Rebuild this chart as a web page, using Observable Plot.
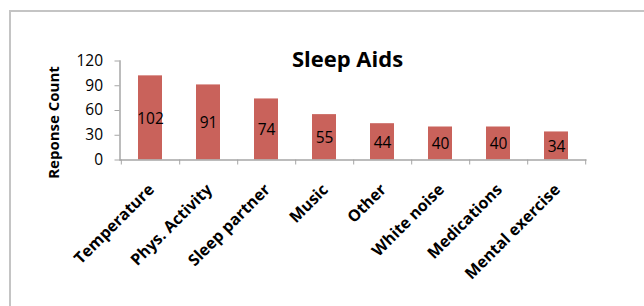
<!DOCTYPE html>
<html><head><meta charset="utf-8">
<script src="https://cdn.jsdelivr.net/npm/d3@7"></script>
<script src="https://cdn.jsdelivr.net/npm/@observablehq/plot@0.6"></script>
<style>
body{margin:0;background:#fff;overflow:hidden;width:644px;height:306px;position:relative;font-family:"Open Sans",sans-serif;}
#border{position:absolute;left:9px;top:10px;width:700px;height:400px;border:2px solid #c4c4c4;box-sizing:border-box}
#chart{position:absolute;left:0;top:0}
</style></head><body><div id="border"></div><div id="chart"></div>
<script>
const categories = ["Temperature","Phys. Activity","Sleep partner","Music","Other","White noise","Medications","Mental exercise"];
const counts = [102,91,74,55,44,40,40,34];
const yTicks = [0,30,60,90,120];
const title = "Sleep Aids";
const yLabel = "Reponse Count";

const data = categories.map((c,i)=>({category:c,count:counts[i]}));
const W=644,H=306, mL=119.5, mR=57.5, mT=60.5, mB=146.5;
const step=(W-mL-mR)/categories.length;
const axisColor="#a6a6a6";
const font="'Open Sans', sans-serif";

const plot = Plot.plot({
  width:W,height:H,marginLeft:mL,marginRight:mR,marginTop:mT,marginBottom:mB,
  style:{fontFamily:font,fontSize:"15px",background:"transparent",color:"#000",overflow:"visible"},
  x:{domain:categories,paddingInner:0.594,paddingOuter:0.297,axis:null},
  y:{domain:[0,120],axis:null},
  marks:[
    Plot.barY(data,{x:"category",y:"count",fill:"#c9625b"}),
    Plot.text(data,{x:"category",y:d=>d.count/2,text:d=>String(d.count),fontSize:15.5,fill:"#000",dy:1}),
    Plot.ruleY([0],{stroke:axisColor,strokeWidth:1.5}),
    Plot.frame({anchor:"left",stroke:axisColor,strokeWidth:1.5}),
    Plot.axisY({ticks:yTicks,tickSize:5,text:null,label:null,stroke:axisColor}),
    Plot.text(yTicks,{y:d=>d,frameAnchor:"left",textAnchor:"end",lineAnchor:"middle",dx:-17,fontSize:15.5,fill:"#000"}),
    Plot.axisX({ticks:categories,tickSize:5,text:null,label:null,dx:step/2,stroke:axisColor}),
    Plot.axisX({ticks:[categories[0]],tickSize:5,text:null,label:null,dx:-step/2,stroke:axisColor}),
    Plot.text(categories,{x:d=>d,frameAnchor:"bottom",rotate:-45,textAnchor:"end",lineAnchor:"middle",dy:27,dx:1,fontWeight:"bold",fontSize:16,fill:"#000"}),
    Plot.text([yLabel],{frameAnchor:"left",rotate:-90,textAnchor:"middle",lineAnchor:"middle",dx:-66,dy:12,fontWeight:"bold",fontSize:15,fill:"#000"}),
    Plot.text([title],{frameAnchor:"top",textAnchor:"middle",lineAnchor:"middle",dx:-6,dy:-1,fontWeight:"bold",fontSize:22,fill:"#000"})
  ]
});
document.getElementById("chart").appendChild(plot);
</script>
</body></html>
